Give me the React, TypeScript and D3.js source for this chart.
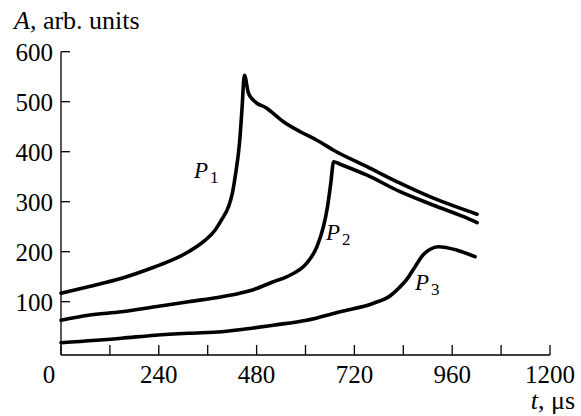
import React from "react";
import * as d3 from "d3";

const p1T = [0, 67, 149, 231, 272, 313, 354, 378, 395, 411, 420, 427, 438, 444, 450, 460, 472, 505, 546, 587, 628, 669, 751, 832, 914, 1021];
const p1A = [117, 130, 147, 170, 183, 200, 223, 243, 265, 290, 315, 348, 417, 483, 553, 517, 503, 487, 460, 440, 423, 403, 370, 337, 307, 275];

const p2T = [0, 67, 149, 231, 313, 395, 439, 468, 521, 562, 603, 628, 644, 654, 662, 669, 685, 751, 832, 914, 988, 1021];
const p2A = [63, 73, 80, 90, 100, 110, 117, 123, 140, 153, 177, 210, 250, 290, 337, 380, 375, 353, 320, 293, 270, 258];

const p3T = [0, 149, 231, 313, 395, 468, 521, 603, 685, 767, 808, 830, 849, 865, 890, 906, 926, 972, 1016];
const p3A = [18, 27, 33, 37, 40, 47, 53, 63, 80, 97, 112, 128, 145, 165, 195, 205, 210, 203, 190];

const xMajor = [0, 240, 480, 720, 960, 1200];
const xMinor = [120, 360, 600, 840, 1080];
const yTicks = [100, 200, 300, 400, 500, 600];

const series = [
  { name: "1", t: p1T, a: p1A, lx: 194, ly: 178 },
  { name: "2", t: p2T, a: p2A, lx: 326, ly: 240 },
  { name: "3", t: p3T, a: p3A, lx: 415, ly: 290 },
];

const FONT = "Liberation Serif, Times New Roman, DejaVu Serif, serif";

export default function App() {
  const x = d3.scaleLinear().domain([0, 1200]).range([61, 550]);
  const y = d3.scaleLinear().domain([-6.6, 600]).range([355, 51.7]);
  const line = d3
    .line<[number, number]>()
    .x((d) => x(d[0]))
    .y((d) => y(d[1]))
    .curve(d3.curveMonotoneX);
  const y0 = y.range()[0];
  const ts = { fontFamily: FONT, fill: "#000" } as React.CSSProperties;
  return (
    <svg
      width={581}
      height={416}
      style={{ position: "absolute", left: 0, top: 0, background: "#fff", fontFamily: FONT }}
    >
      <rect width={581} height={416} fill="#fff" />
      <line x1={x(0)} x2={x(0)} y1={y(600)} y2={y0} stroke="#000" strokeWidth={1.3} />
      <line x1={x(0)} x2={x(1200)} y1={y0} y2={y0} stroke="#000" strokeWidth={1.3} />
      {yTicks.map((v) => (
        <g key={"y" + v}>
          <line x1={x(0)} x2={x(0) + 9} y1={y(v)} y2={y(v)} stroke="#000" strokeWidth={1.3} />
          <text x={53} y={y(v) + 9} textAnchor="end" fontSize={25} style={ts}>
            {v}
          </text>
        </g>
      ))}
      {[...xMajor, ...xMinor].map((v) => (
        <line key={"xt" + v} x1={x(v)} x2={x(v)} y1={y0} y2={y0 - 10} stroke="#000" strokeWidth={1.3} />
      ))}
      {xMajor.map((v) => (
        <text key={"xl" + v} x={v === 0 ? x(v) - 12 : x(v)} y={383} textAnchor="middle" fontSize={25} style={ts}>
          {v}
        </text>
      ))}
      <text x={14} y={29} fontSize={26} style={ts}>
        <tspan fontStyle="italic">A</tspan>, arb. units
      </text>
      <text x={575} y={409} textAnchor="end" fontSize={26} style={ts}>
        <tspan fontStyle="italic">t</tspan>, μs
      </text>
      {series.map((s) => (
        <g key={s.name}>
          <path
            d={line(s.t.map((t, i) => [t, s.a[i]] as [number, number])) || ""}
            fill="none"
            stroke="#000"
            strokeWidth={3.6}
            strokeLinejoin="round"
            strokeLinecap="round"
          />
          <text x={s.lx} y={s.ly} fontSize={23} style={ts}>
            <tspan fontStyle="italic">P</tspan>
            <tspan fontSize={17} dx={2} dy={5}>
              {s.name}
            </tspan>
          </text>
        </g>
      ))}
    </svg>
  );
}
